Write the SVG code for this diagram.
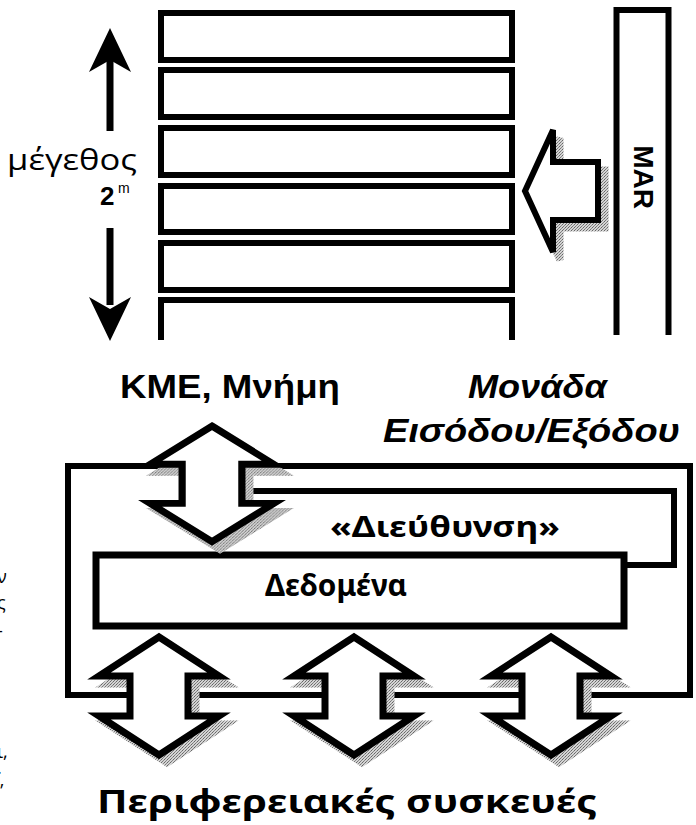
<svg xmlns="http://www.w3.org/2000/svg" width="696" height="825" viewBox="0 0 696 825">
<style>
.ln{fill:none;stroke:#000;stroke-width:6;stroke-linejoin:miter}
.row{fill:#fff;stroke:#000;stroke-width:6}
.ar{fill:#fff;stroke:#000;stroke-width:7;stroke-linejoin:miter}
.sh{fill:url(#st);stroke:url(#st);stroke-width:7;stroke-linejoin:miter}
.ab{font-family:"Liberation Sans",Arial,sans-serif;font-weight:bold;fill:#000}
.ai{font-family:"Liberation Sans",Arial,sans-serif;font-weight:bold;font-style:italic;fill:#000}
.gr{font-family:"Noto Sans","DejaVu Sans",sans-serif;font-weight:bold;fill:#000}
.lt{font-family:"Open Sans","Noto Sans",sans-serif;fill:#000}
</style>
<defs>
<pattern id="st" width="3" height="3" patternUnits="userSpaceOnUse">
<rect width="3" height="3" fill="#d4d4d4"/>
<rect x="0" y="0" width="1" height="1" fill="#666"/>
<rect x="2" y="1" width="1" height="1" fill="#888"/>
<rect x="1" y="2" width="1" height="1" fill="#777"/>
</pattern>
<polygon id="dbl" points="0,0 60,39 29,39 29,79 60,79 0,118 -60,79 -29,79 -29,39 -60,39"/>
</defs>

<g id="memory">
<rect class="row" x="161" y="13" width="351" height="47"/>
<rect class="row" x="161" y="70" width="351" height="47"/>
<rect class="row" x="161" y="128" width="351" height="47"/>
<rect class="row" x="161" y="186" width="351" height="46"/>
<rect class="row" x="161" y="243" width="351" height="47"/>
<path class="ln" d="M161,340 V300 H512 V340"/>
</g>

<g id="size-arrows">
<rect x="106.5" y="55" width="7" height="76" fill="#000"/>
<polygon points="110,28 131,72 110,60 89,72" fill="#000"/>
<rect x="106.5" y="228" width="7" height="77" fill="#000"/>
<polygon points="110,341 131,297 110,309 89,297" fill="#000"/>
</g>

<g id="size-label">
<text class="lt" x="7" y="170" font-size="30" textLength="130" lengthAdjust="spacingAndGlyphs">μέγεθος</text>
<text class="ab" x="100" y="205" font-size="26">2</text>
<text x="118" y="193" font-size="14" font-family="Liberation Sans,Arial,sans-serif">m</text>
</g>

<g id="mar">
<path class="ln" d="M616.5,335 V10 H668.5 V335"/>
<text class="ab" font-size="28" text-anchor="middle" transform="translate(644,177) rotate(90)" y="10">MAR</text>
</g>

<g id="mar-arrow">
<polygon class="sh" transform="translate(7,8)" points="525,191 553,130 553,162 598,162 598,220 553,220 553,252"/>
<polygon class="ln" style="fill:#fff" points="525,191 553,130 553,162 598,162 598,220 553,220 553,252"/>
</g>

<g id="labels-top">
<text class="ab" x="120" y="398" font-size="34" textLength="220" lengthAdjust="spacingAndGlyphs">ΚΜΕ, Μνήμη</text>
<text class="ai" x="468" y="398" font-size="34" textLength="139" lengthAdjust="spacingAndGlyphs">Μονάδα</text>
<text class="ai" x="383" y="442" font-size="34" textLength="297" lengthAdjust="spacingAndGlyphs">Εισόδου/Εξόδου</text>
</g>

<g id="connectors">
<path class="ln" d="M212,466 H68 V695 H690 V466 Z"/>
<path class="ln" d="M212,491 H674 V565 H624"/>
</g>

<g id="data-bus">
<rect x="96" y="555" width="528" height="71" fill="#fff" stroke="#000" stroke-width="7"/>
<text class="gr" x="265" y="596" font-size="31" textLength="142" lengthAdjust="spacingAndGlyphs">Δεδομένα</text>
</g>

<g id="address-bus">
<text class="gr" x="330" y="537" font-size="28" textLength="230" lengthAdjust="spacingAndGlyphs">«Διεύθυνση»</text>
</g>

<g id="cpu-arrow">
<use href="#dbl" class="sh" transform="translate(220,434) scale(1.03,0.98)"/>
<use href="#dbl" class="ar" transform="translate(212,426) scale(1.03,0.98)"/>
</g>

<g id="dev-arrow-1">
<use href="#dbl" class="sh" transform="translate(167,645)"/>
<use href="#dbl" class="ar" transform="translate(159,637)"/>
</g>
<g id="dev-arrow-2">
<use href="#dbl" class="sh" transform="translate(362,645)"/>
<use href="#dbl" class="ar" transform="translate(354,637)"/>
</g>
<g id="dev-arrow-3">
<use href="#dbl" class="sh" transform="translate(559,645)"/>
<use href="#dbl" class="ar" transform="translate(551,637)"/>
</g>

<g id="devices-label">
<text class="gr" x="97" y="813" font-size="32" textLength="500" lengthAdjust="spacingAndGlyphs">Περιφερειακές συσκευές</text>
</g>

<g id="margin-fragments">
<text class="lt" font-size="18"><tspan x="-3" y="583">ν</tspan><tspan x="-3" y="609">ς</tspan><tspan x="-3" y="637">-</tspan><tspan x="-3" y="758">ι,</tspan><tspan x="-3" y="774">.</tspan><tspan x="-3" y="797">”</tspan></text>
</g>
</svg>
